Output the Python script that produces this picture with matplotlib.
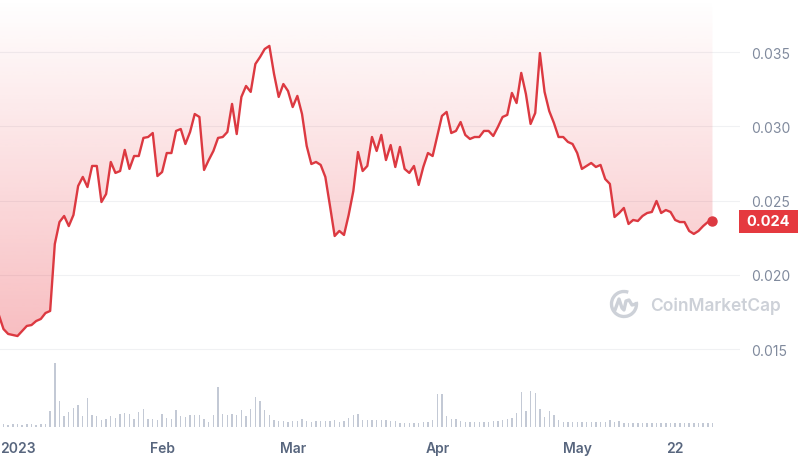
import matplotlib
matplotlib.use("Agg")
import matplotlib.pyplot as plt
import matplotlib.dates as mdates
from matplotlib.patches import Rectangle, Arc
from matplotlib.transforms import blended_transform_factory
import numpy as np
import pandas as pd

# daily close, 28 Dec 2022 .. 30 May 2023
price = [
	0.01730, 0.01635, 0.01602, 0.01595, 0.01588, 0.01622, 0.01656, 0.01662, 0.01689, 0.01703,
	0.01743, 0.01757, 0.02208, 0.02356, 0.02397, 0.02329, 0.02404, 0.02599, 0.02660, 0.02592,
	0.02734, 0.02734, 0.02491, 0.02545, 0.02761, 0.02687, 0.02700, 0.02842, 0.02714, 0.02801,
	0.02801, 0.02923, 0.02929, 0.02956, 0.02666, 0.02693, 0.02821, 0.02821, 0.02970, 0.02983,
	0.02882, 0.02963, 0.03084, 0.03064, 0.02707, 0.02774, 0.02835, 0.02923, 0.02929, 0.02963,
	0.03152, 0.02949, 0.03199, 0.03273, 0.03233, 0.03421, 0.03468, 0.03522, 0.03543, 0.03354,
	0.03199, 0.03286, 0.03239, 0.03131, 0.03206, 0.03084, 0.02869, 0.02747, 0.02761, 0.02741,
	0.02660, 0.02464, 0.02262, 0.02296, 0.02269, 0.02404, 0.02565, 0.02828, 0.02700, 0.02734,
	0.02929, 0.02835, 0.02943, 0.02774, 0.02875, 0.02727, 0.02862, 0.02714, 0.02687, 0.02734,
	0.02606, 0.02727, 0.02821, 0.02801, 0.02936, 0.03071, 0.03098, 0.02956, 0.02970, 0.03030,
	0.02943, 0.02916, 0.02929, 0.02929, 0.02970, 0.02970, 0.02936, 0.02997, 0.03064, 0.03078,
	0.03226, 0.03158, 0.03361, 0.03219, 0.03017, 0.03091, 0.03495, 0.03233, 0.03104, 0.03024,
	0.02929, 0.02929, 0.02896, 0.02882, 0.02821, 0.02714, 0.02734, 0.02754, 0.02727, 0.02741,
	0.02646, 0.02613, 0.02390, 0.02417, 0.02451, 0.02343, 0.02370, 0.02363, 0.02397, 0.02417,
	0.02424, 0.02498, 0.02417, 0.02437, 0.02424, 0.02370, 0.02356, 0.02356, 0.02296, 0.02276,
	0.02296, 0.02329, 0.02356, 0.02363,
]

# 24h volume, relative units
volume = [
	0.25, 0.25, 0.22, 0.25, 0.25, 0.22, 0.25, 0.25, 0.22, 0.25,
	0.25, 1.57, 6.40, 2.57, 1.10, 1.50, 1.93, 2.17, 1.10, 2.87,
	1.23, 1.10, 0.67, 0.77, 1.10, 0.90, 1.33, 1.40, 1.33, 0.83,
	1.50, 1.77, 0.77, 0.83, 0.67, 1.33, 0.90, 0.83, 1.67, 1.10,
	1.00, 1.17, 1.23, 1.23, 0.77, 0.50, 1.23, 3.97, 1.33, 1.23,
	1.33, 1.23, 1.67, 1.10, 1.77, 3.00, 2.63, 1.67, 1.17, 0.67,
	0.57, 0.57, 0.50, 0.57, 0.57, 0.83, 0.57, 0.50, 0.63, 0.63,
	0.63, 0.63, 0.67, 0.50, 0.63, 0.90, 1.23, 1.30, 0.70, 0.70,
	0.70, 0.70, 0.70, 0.67, 0.57, 0.57, 0.35, 0.35, 0.40, 0.40,
	0.40, 0.45, 0.50, 0.67, 3.33, 3.27, 1.10, 0.77, 0.77, 0.57,
	0.50, 0.50, 0.50, 0.50, 0.50, 0.50, 0.57, 0.63, 0.67, 0.77,
	0.90, 1.43, 3.50, 1.57, 3.60, 3.40, 1.83, 1.00, 1.57, 1.23,
	0.67, 0.50, 0.45, 0.45, 0.45, 0.45, 0.45, 0.45, 0.45, 0.45,
	0.45, 0.67, 0.50, 0.57, 0.35, 0.35, 0.35, 0.35, 0.35, 0.35,
	0.35, 0.35, 0.35, 0.35, 0.35, 0.35, 0.35, 0.35, 0.35, 0.35,
	0.35, 0.35, 0.35, 0.35,
]

start_date = "2022-12-28"
tick_dates = ["2023-01-01", "2023-02-01", "2023-03-01", "2023-04-01", "2023-05-01", "2023-05-22"]
tick_labels = ["2023", "Feb", "Mar", "Apr", "May", "22"]
price_ticks = [0.015, 0.020, 0.025, 0.030, 0.035]

RED = "#dc3941"
GRID = "#f0f1f3"
plt.rcParams["font.family"] = ["Inter", "DejaVu Sans"]

dates = pd.date_range(start_date, periods=len(price), freq="D")
x = mdates.date2num(dates)
price = np.array(price)

fig = plt.figure(figsize=(8, 4.6), dpi=100)
ax = fig.add_axes([0, 32 / 460, 740 / 800, 428 / 460])
vax = ax.twinx()
ax.set_zorder(vax.get_zorder() + 1)
ax.patch.set_visible(False)

ylo, yhi = 0.00975, 0.03859

# volume bars in the bottom strip
vax.bar(x, volume, width=0.3, color="#c3c9d5", linewidth=0)
vax.set_ylim(0, max(volume) / 0.15)
vax.set_yticks([])

# gradient fill between line and top: faint at top, pinker towards the low
poly = ax.fill_between(x, price, yhi, facecolor="none", edgecolor="none")
n = 256
grad = np.zeros((n, 1, 4))
grad[:, 0, 0:3] = matplotlib.colors.to_rgb("#ea3943")
grad[:, 0, 3] = np.linspace(0.33, 0.0, n)
im = ax.imshow(grad, extent=[x[0], x[-1], price.min(), yhi], aspect="auto",
	origin="lower", zorder=1, interpolation="bilinear")
im.set_clip_path(poly.get_paths()[0], transform=ax.transData)
ax.set_xlim(x[0] + 0.25, x[0] + 158.9)
ax.set_ylim(ylo, yhi)

ax.plot(x, price, color=RED, lw=1.7, zorder=3, solid_joinstyle="round")
ax.plot(x[-1], price[-1], "o", color=RED, ms=6.5, zorder=4)

for t in price_ticks:
	ax.axhline(t, color=GRID, lw=0.8, zorder=0)

for s in ax.spines.values():
	s.set_visible(False)
for s in vax.spines.values():
	s.set_visible(False)

ax.yaxis.tick_right()
ax.set_yticks(price_ticks)
ax.set_yticklabels(["%.3f" % t for t in price_ticks])
ax.tick_params(axis="y", length=0, pad=8, labelsize=10, labelcolor="#808a9d")
ax.set_xticks(mdates.date2num(pd.to_datetime(tick_dates)))
ax.set_xticklabels(tick_labels, fontweight="semibold")
ax.tick_params(axis="x", length=0, pad=10, labelsize=10, labelcolor="#58667e")

# current price tag
tr = blended_transform_factory(ax.transAxes, ax.transData)
box_h = 0.00155
ax.add_patch(Rectangle((0.9986, price[-1] - box_h / 2), 0.0797, box_h, transform=tr,
	facecolor="#e5393f", edgecolor="none", clip_on=False, zorder=5))
ax.text(1.0385, price[-1], "%.3f" % price[-1], transform=tr, ha="center", va="center",
	color="white", fontsize=10.5, fontweight="bold", zorder=6, clip_on=False)

# watermark
ov = fig.add_axes([0, 0, 1, 1])
ov.set_xlim(0, 800)
ov.set_ylim(460, 0)
ov.axis("off")
ov.patch.set_visible(False)
wm = "#cdd1d8"
ov.add_patch(Arc((624, 305), 25, 25, theta1=-10, theta2=290, color=wm, lw=2.4))
ov.plot([615, 619, 622, 624, 626, 629, 632, 636], [311, 300, 309, 311, 302, 301, 306, 305],
	color=wm, lw=2.4, solid_joinstyle="round", solid_capstyle="round")
ov.text(650, 306, "CoinMarketCap", color=wm, fontsize=12.5, fontweight="semibold",
	ha="left", va="center")

fig.savefig("out.png", dpi=100)
